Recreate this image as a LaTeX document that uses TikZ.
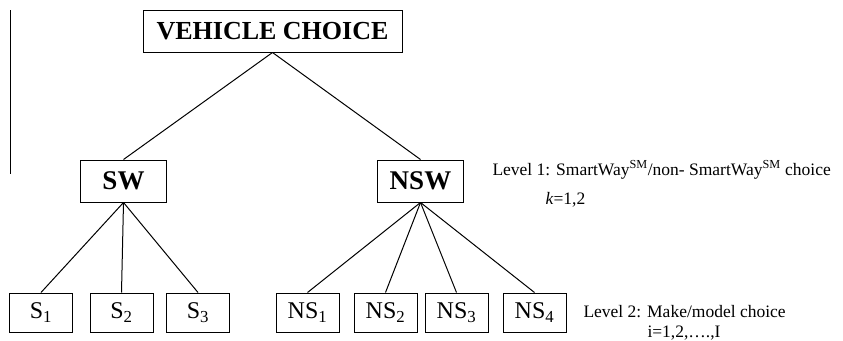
\documentclass[tikz,border=0pt]{standalone}
\usepackage{fontspec}
\setmainfont{Liberation Serif}
\begin{document}
\begin{tikzpicture}[
        x=1pt, y=-1pt, line width=1pt,
        top/.style={draw, inner sep=0pt, minimum width=259pt, minimum height=42pt,
                    text centered, font=\fontsize{26}{30}\selectfont\bfseries},
        group/.style={draw, inner sep=0pt, minimum width=86pt, minimum height=42pt,
                      text centered, font=\fontsize{27}{30}\selectfont\bfseries},
        item/.style={draw, inner sep=0pt, minimum width=63pt, minimum height=39pt,
                     text centered, font=\fontsize{24}{26}\selectfont},
        note/.style={anchor=base west, inner sep=0pt, font=\fontsize{17.5}{22}\selectfont},
    ]
        \useasboundingbox (0,0) rectangle (843,340);
        \draw (10,10) -- (10,174);

        \node[top] (vc) at (272.5,31) {VEHICLE CHOICE};

        % level 1
        \node[group] (sw) at (123.5,181) {SW};
        \node[group] (nsw) at (420.5,181) {NSW};

        % level 2
        \node[item] (s1) at (41,312.5) {S\textsubscript{1}};
        \node[item] (s2) at (121.5,312.5) {S\textsubscript{2}};
        \node[item] (s3) at (198,312.5) {S\textsubscript{3}};
        \node[item] (ns1) at (307.5,312.5) {NS\textsubscript{1}};
        \node[item] (ns2) at (385.5,312.5) {NS\textsubscript{2}};
        \node[item] (ns3) at (456.5,312.5) {NS\textsubscript{3}};
        \node[item] (ns4) at (534.5,312.5) {NS\textsubscript{4}};

        \draw (vc.south) -- (sw.north);
        \draw (vc.south) -- (nsw.north);
        \foreach \c in {s1,s2,s3}
            \draw (sw.south) -- (\c.north);
        \foreach \c in {ns1,ns2,ns3,ns4}
            \draw (nsw.south) -- (\c.north);

        % level labels
        \node[note] (lv1) at (492,175)
            {Level 1: SmartWay\textsuperscript{SM}/non- SmartWay\textsuperscript{SM} choice};
        \node[note] (lv1k) at (545,204) {\textit{k}=1,2};
        \node[note] (lv2) at (583,317) {Level 2: Make/model choice};
        \node[note] (lv2i) at (647,337) {i=1,2,….,I};
    \end{tikzpicture}
\end{document}
